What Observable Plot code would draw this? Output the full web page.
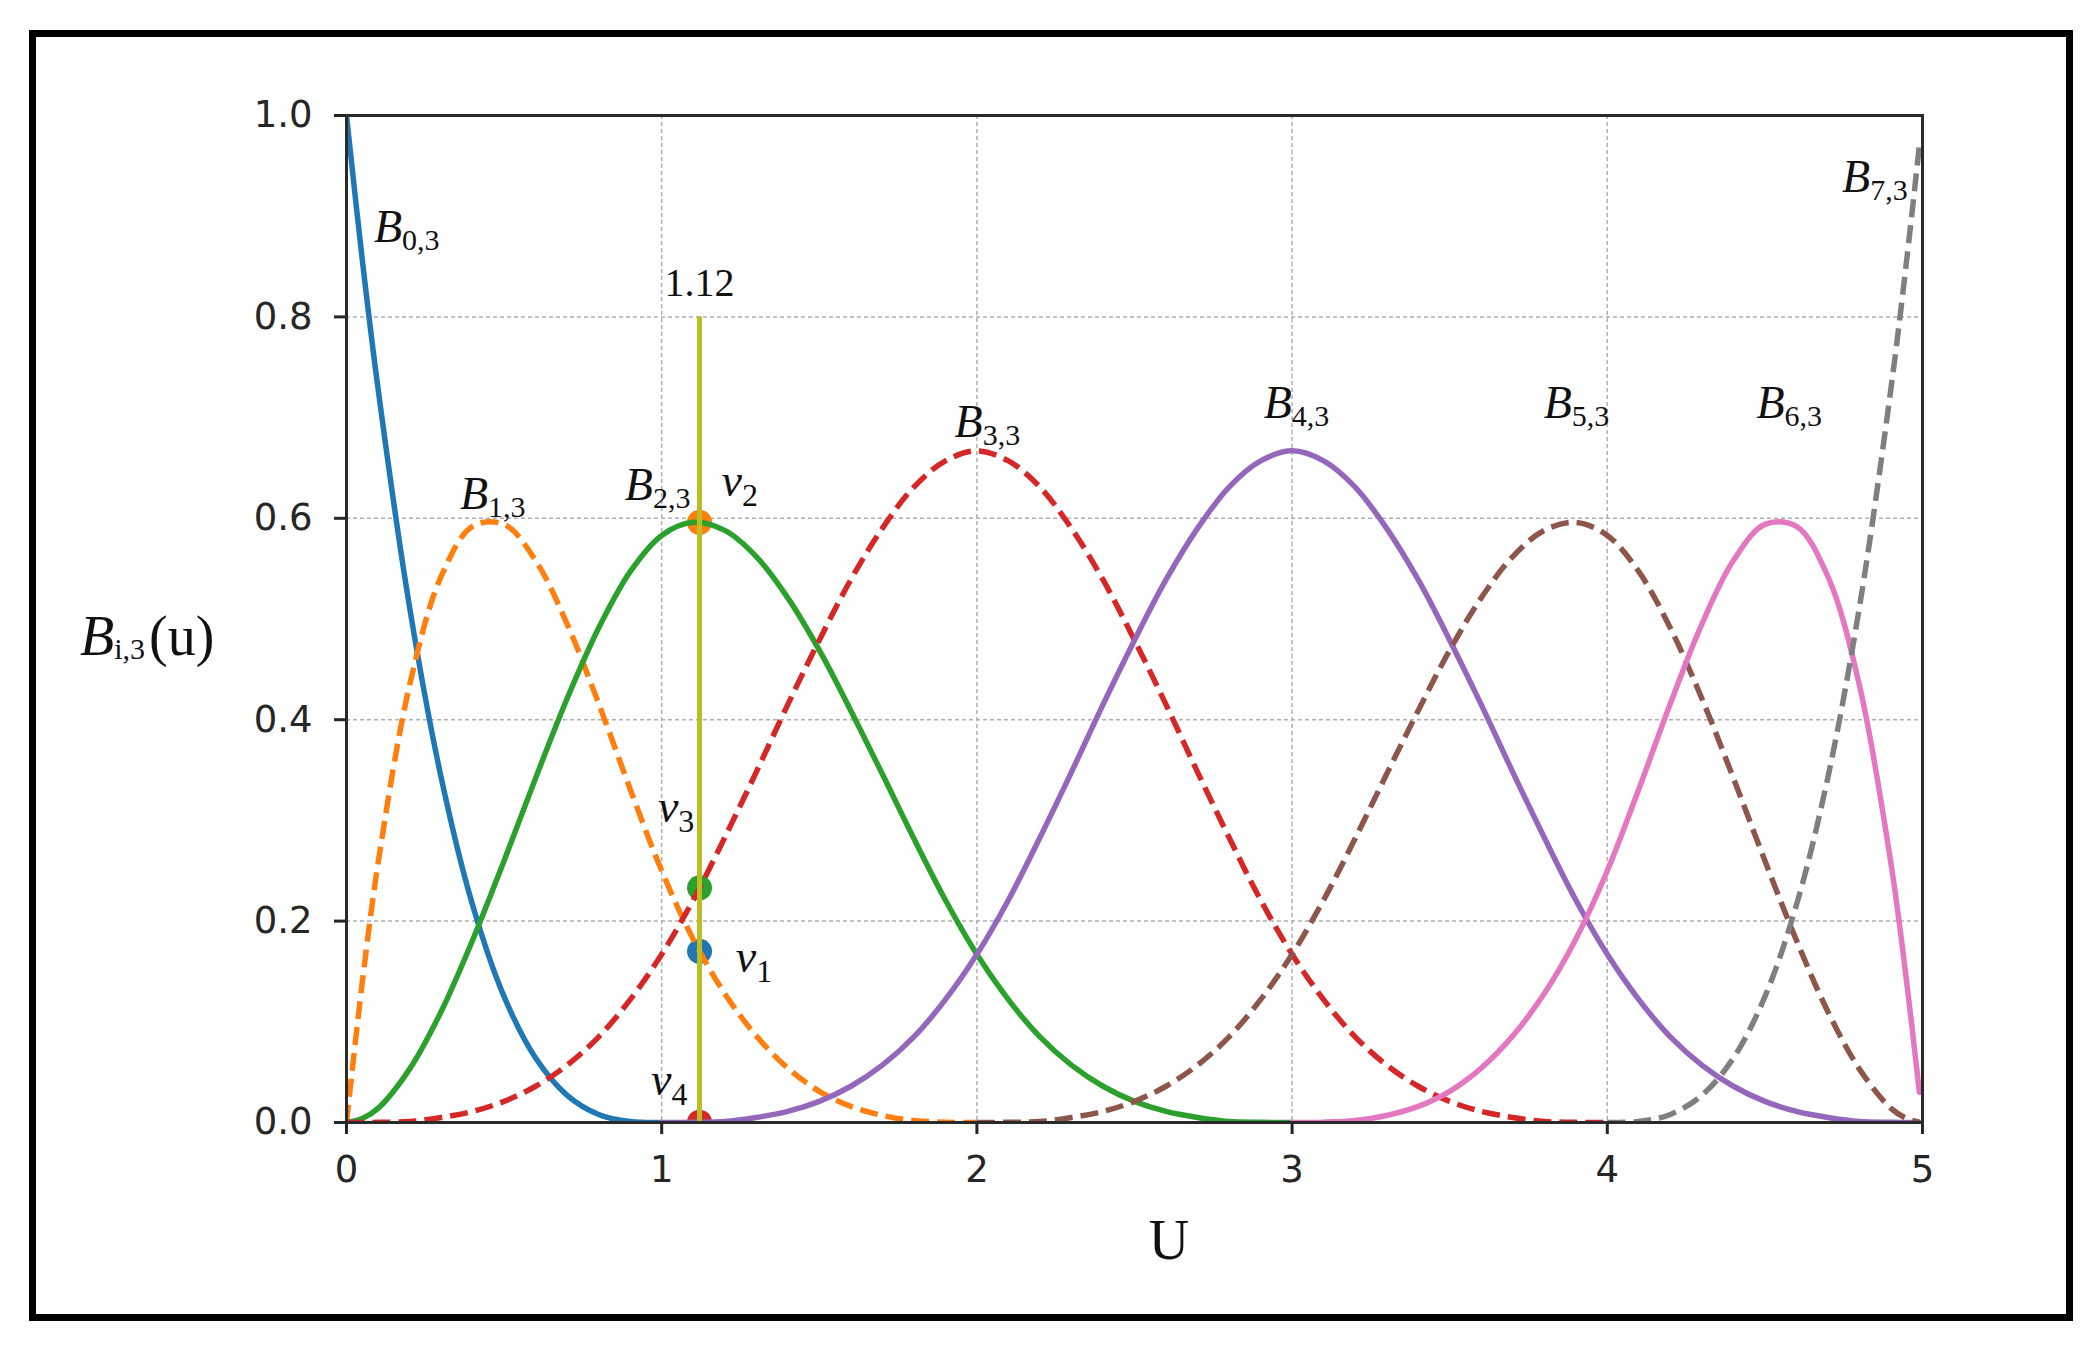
<!DOCTYPE html>
<html><head><meta charset="utf-8">
<script src="https://cdn.jsdelivr.net/npm/d3@7"></script>
<script src="https://cdn.jsdelivr.net/npm/@observablehq/plot@0.6"></script>
<style>
body{margin:0;background:#fff;}
#wrap{position:relative;width:2100px;height:1346px;overflow:hidden;}
#chart{position:absolute;left:0;top:0;}
#frame{position:absolute;left:29px;top:30px;width:2044px;height:1291px;border:7px solid #000;box-sizing:border-box;pointer-events:none;}
</style></head>
<body><div id="wrap"><div id="chart"></div><div id="frame"></div></div>
<script>
const gap = n => Array(n).fill(null);

// parameter samples (u)
const u = [0, 0.05, 0.1, 0.2, 0.3, 0.4, 0.5, 0.6, 0.7, 0.8, 0.9,
  1.0, 1.1, 1.2, 1.3, 1.4, 1.5, 1.6, 1.7, 1.8, 1.9,
  2.0, 2.1, 2.2, 2.3, 2.4, 2.5, 2.6, 2.7, 2.8, 2.9,
  3.0, 3.1, 3.2, 3.3, 3.4, 3.5, 3.6, 3.7, 3.8, 3.9,
  4.0, 4.1, 4.2, 4.3, 4.4, 4.5, 4.6, 4.7, 4.8, 4.9, 4.95, 4.99];

// basis function values (null = outside support)
const b0 = [1, 0.857, 0.729, 0.512, 0.343, 0.216, 0.125, 0.064, 0.027, 0.008, 0.001, 0, ...gap(41)];
const b1 = [0, 0.139, 0.257, 0.434, 0.542, 0.592, 0.594, 0.558, 0.495, 0.416, 0.331,
  0.25, 0.182, 0.128, 0.086, 0.054, 0.031, 0.016, 0.007, 0.002, 0.0003, 0, ...gap(31)];
const b2 = [0, 0.004, 0.014, 0.053, 0.110, 0.181, 0.260, 0.342, 0.421, 0.491, 0.547,
  0.583, 0.596, 0.588, 0.562, 0.521, 0.469, 0.409, 0.346, 0.282, 0.221,
  0.167, 0.122, 0.085, 0.057, 0.036, 0.021, 0.011, 0.005, 0.001, 0.0002, 0, ...gap(21)];
const b3 = [0, 0, 0.0002, 0.001, 0.005, 0.011, 0.021, 0.036, 0.057, 0.085, 0.122,
  0.167, 0.221, 0.283, 0.348, 0.415, 0.479, 0.539, 0.590, 0.631, 0.657,
  0.667, 0.657, 0.631, 0.590, 0.539, 0.479, 0.415, 0.348, 0.283, 0.221,
  0.167, 0.122, 0.085, 0.057, 0.036, 0.021, 0.011, 0.005, 0.001, 0.0002, 0, ...gap(11)];
const b4 = [...gap(11), 0, 0.0002, 0.001, 0.005, 0.011, 0.021, 0.036, 0.057, 0.085, 0.122,
  0.167, 0.221, 0.283, 0.348, 0.415, 0.479, 0.539, 0.590, 0.631, 0.657,
  0.667, 0.657, 0.631, 0.590, 0.539, 0.479, 0.415, 0.348, 0.283, 0.221,
  0.167, 0.122, 0.085, 0.057, 0.036, 0.021, 0.011, 0.005, 0.001, 0.0002, 0, 0];
const b5 = [...gap(21), 0, 0.0002, 0.001, 0.005, 0.011, 0.021, 0.036, 0.057, 0.085, 0.122,
  0.167, 0.221, 0.282, 0.346, 0.409, 0.469, 0.521, 0.562, 0.588, 0.596,
  0.583, 0.547, 0.491, 0.421, 0.342, 0.260, 0.181, 0.110, 0.053, 0.014, 0.004, 0.0002];
const b6 = [...gap(31), 0, 0.0003, 0.002, 0.007, 0.016, 0.031, 0.054, 0.086, 0.128, 0.182,
  0.25, 0.331, 0.416, 0.495, 0.558, 0.594, 0.592, 0.542, 0.434, 0.257, 0.139, 0.030];
const b7 = [...gap(41), 0, 0.001, 0.008, 0.027, 0.064, 0.125, 0.216, 0.343, 0.512, 0.729, 0.857, 0.970];

// evaluation at u = 1.12
const evalU = 1.12;
const evalNames = ["v1", "v2", "v3", "v4"];
const evalValues = [0.170, 0.596, 0.233, 0.0003];

// tick values
const xTicks = [0, 1, 2, 3, 4, 5];
const yTicks = [0, 0.2, 0.4, 0.6, 0.8, 1.0];

// curve labels: name, subscript, anchor (u, value)
const labelMain = ["B", "B", "B", "B", "B", "B", "B", "B", "v", "v", "v", "v"];
const labelSub  = ["0,3", "1,3", "2,3", "3,3", "4,3", "5,3", "6,3", "7,3", "2", "3", "1", "4"];
const labelU    = [0.087, 0.36, 0.883, 1.929, 2.91, 3.798, 4.473, 4.745, 1.19, 0.988, 1.235, 0.966];
const labelV    = [0.874, 0.609, 0.618, 0.681, 0.700, 0.700, 0.700, 0.924, 0.622, 0.298, 0.149, 0.027];

// styles
const colors = ["#1f77b4", "#ff7f0e", "#2ca02c", "#d62728", "#9467bd", "#8c564b", "#e377c2", "#7f7f7f"];
const dashed = [false, true, false, true, false, true, false, true];
const evalColors = ["#1f77b4", "#ff7f0e", "#2ca02c", "#d62728"];

const series = [b0, b1, b2, b3, b4, b5, b6, b7];
const rows = series.map(s => u.map((x, i) => ({u: x, v: s[i]})).filter(d => d.v != null));
const evalRows = evalValues.map((v, i) => ({u: evalU, v, name: evalNames[i], color: evalColors[i]}));
const labelRows = labelMain.map((m, i) => ({u: labelU[i], v: labelV[i], t: m + "_" + labelSub[i], main: m}));

const serif = "'Liberation Serif', 'Times New Roman', serif";

const plot = Plot.plot({
  width: 2100, height: 1346,
  marginLeft: 346, marginRight: 178, marginTop: 115, marginBottom: 224,
  x: {domain: [0, 5]},
  y: {domain: [0, 1]},
  style: {fontFamily: "'DejaVu Sans', sans-serif", background: "#fff", overflow: "visible"},
  marks: [
    Plot.gridX(xTicks.slice(1, -1), {stroke: "#b0b0b0", strokeOpacity: 1, strokeWidth: 1.5, strokeDasharray: "4,3"}),
    Plot.gridY(yTicks.slice(1, -1), {stroke: "#b0b0b0", strokeOpacity: 1, strokeWidth: 1.5, strokeDasharray: "4,3"}),
    Plot.dot(evalRows, {x: "u", y: "v", r: 12.5, fill: "color", stroke: null, clip: true}),
    ...rows.map((r, i) => Plot.line(r, {
      x: "u", y: "v", stroke: colors[i], strokeWidth: 5.5, curve: "catmull-rom", clip: true,
      strokeDasharray: dashed[i] ? "18,8" : undefined,
      strokeLinecap: dashed[i] ? "butt" : "round"
    })),
    Plot.ruleX([evalU], {y1: 0, y2: 0.8, stroke: "#bcbd22", strokeWidth: 5}),
    Plot.text(labelRows, {x: "u", y: "v", text: "t", textAnchor: "start", lineAnchor: "bottom",
      fontFamily: serif, fontSize: 46, fontStyle: "italic", fill: "#111"}),
    Plot.text([evalU], {x: d => d, y: 0.821, text: d => d.toFixed(2), textAnchor: "middle", lineAnchor: "bottom",
      fontFamily: serif, fontSize: 40, fill: "#111"}),
    Plot.axisX({ticks: xTicks, tickFormat: d => String(d), tickSize: 12, tickPadding: 21,
      fontSize: 37, fontFamily: "'DejaVu Sans', sans-serif", color: "#262626", strokeWidth: 3, label: null}),
    Plot.axisY({ticks: yTicks, tickFormat: d3.format(".1f"), tickSize: 12, tickPadding: 22,
      fontSize: 37, fontFamily: "'DejaVu Sans', sans-serif", color: "#262626", strokeWidth: 3, label: null}),
    Plot.frame({stroke: "#2a2a2a", strokeWidth: 3})
  ]
});

document.getElementById("chart").appendChild(plot);

// rich text: italic main letter with upright subscript
const svg = d3.select(plot);
svg.selectAll("text").each(function() {
  const el = d3.select(this);
  const s = el.text();
  if (!s.includes("_")) return;
  const [m, sub] = s.split("_");
  el.text(null);
  el.append("tspan").text(m);
  el.append("tspan").attr("font-style", "normal").attr("font-size", m === "v" ? 32 : 30)
    .attr("dy", m === "v" ? 10 : 8).text(sub);
});

// axis titles
const yl = svg.append("text").attr("x", 80).attr("y", 655).attr("text-anchor", "start")
  .attr("font-family", serif).attr("font-size", 56).attr("fill", "#111");
yl.append("tspan").attr("font-style", "italic").text("B");
yl.append("tspan").attr("font-size", 30).attr("dy", 4).text("i,3");
yl.append("tspan").attr("dy", -4).attr("dx", 4).text("(u)");

svg.append("text").attr("x", 1169).attr("y", 1259).attr("text-anchor", "middle")
  .attr("font-family", serif).attr("font-size", 56).attr("fill", "#111").text("U");
</script>
</body></html>
